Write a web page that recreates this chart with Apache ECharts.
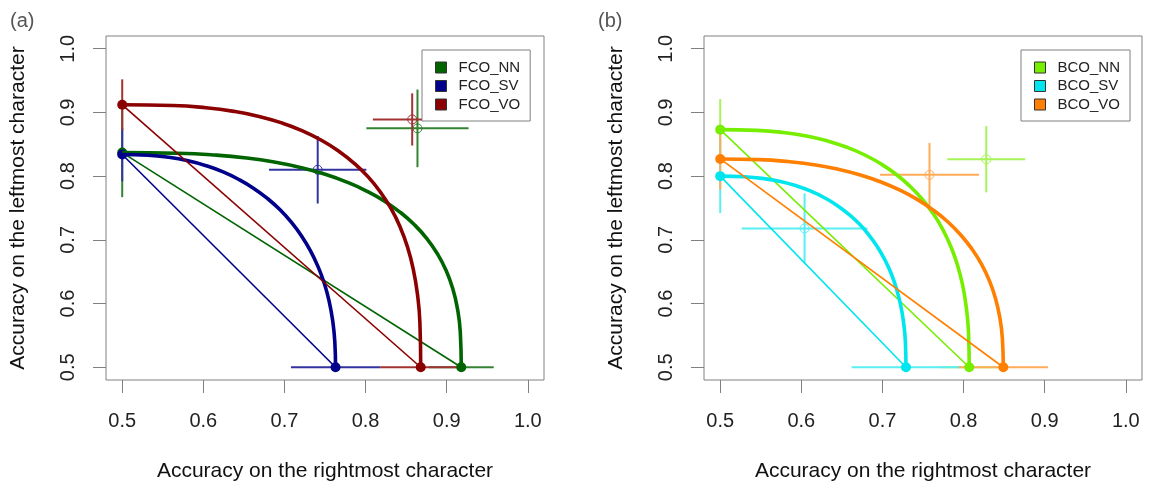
<!DOCTYPE html>
<html><head><meta charset="utf-8">
<script src="https://cdn.jsdelivr.net/npm/echarts@6/dist/echarts.min.js"></script>
<style>html,body{margin:0;padding:0;background:#fff}#c{width:1149px;height:485px}</style>
</head><body><div id="c"></div><script>
// ---------- data ----------
const tickValues = [0.5, 0.6, 0.7, 0.8, 0.9, 1.0];
const xTitle = 'Accuracy on the rightmost character';
const yTitle = 'Accuracy on the leftmost character';
const panelLabels = ['(a)', '(b)'];

// panel (a)
const fcoNames = ['FCO_NN', 'FCO_SV', 'FCO_VO'];
const fcoColors = ['#006400', '#00008B', '#8B0000'];
const fcoLeft = [0.837, 0.834, 0.912];
const fcoLeftErr = [0.07, 0.042, 0.04];
const fcoRight = [0.918, 0.763, 0.868];
const fcoRightErr = [0.04, 0.055, 0.05];
const fcoJointX = [0.864, 0.741, 0.8575];
const fcoJointXErr = [0.063, 0.06, 0.0485];
const fcoJointY = [0.875, 0.810, 0.889];
const fcoJointYErr = [0.061, 0.053, 0.041];
const fcoNNCurve = [[0.5,0.837],[0.5686,0.836],[0.6143,0.8332],[0.6536,0.8285],[0.6888,0.8218],[0.7209,0.8133],[0.7502,0.8029],[0.7769,0.7907],[0.8013,0.7766],[0.8234,0.7607],[0.8431,0.7429],[0.8606,0.7233],[0.8758,0.7017],[0.8886,0.6781],[0.8992,0.6522],[0.9074,0.6238],[0.9133,0.5921],[0.9168,0.5553],[0.918,0.5]];
const fcoSVCurve = [[0.5,0.834],[0.5315,0.8329],[0.5574,0.8296],[0.5812,0.8241],[0.6035,0.8164],[0.6244,0.8066],[0.6439,0.7947],[0.6622,0.7808],[0.6791,0.7649],[0.6946,0.7471],[0.7086,0.7274],[0.7211,0.706],[0.7321,0.6828],[0.7414,0.6579],[0.7492,0.6314],[0.7552,0.6031],[0.7595,0.5729],[0.7621,0.54],[0.763,0.5]];
const fcoVOCurve = [[0.5,0.912],[0.5624,0.9109],[0.603,0.9074],[0.6377,0.9017],[0.6687,0.8938],[0.6967,0.8836],[0.7223,0.8711],[0.7456,0.8564],[0.7668,0.8394],[0.786,0.8202],[0.8032,0.7988],[0.8183,0.775],[0.8315,0.7489],[0.8426,0.7202],[0.8517,0.6888],[0.8588,0.6542],[0.8639,0.6153],[0.867,0.5699],[0.868,0.5]];

// panel (b)
const bcoNames = ['BCO_NN', 'BCO_SV', 'BCO_VO'];
const bcoColors = ['#76EE00', '#00E5EE', '#FF7F00'];
const bcoLeft = [0.873, 0.800, 0.827];
const bcoLeftErr = [0.048, 0.058, 0.048];
const bcoRight = [0.807, 0.729, 0.849];
const bcoRightErr = [0.035, 0.067, 0.055];
const bcoJointX = [0.828, 0.604, 0.758];
const bcoJointXErr = [0.048, 0.0775, 0.061];
const bcoJointY = [0.8265, 0.718, 0.802];
const bcoJointYErr = [0.052, 0.055, 0.05];
const bcoNNCurve = [[0.5,0.873],[0.5453,0.8719],[0.5778,0.8686],[0.6064,0.863],[0.6323,0.8552],[0.6562,0.8453],[0.6783,0.8332],[0.6985,0.819],[0.7171,0.8026],[0.7339,0.7842],[0.7491,0.7637],[0.7625,0.7412],[0.7743,0.7166],[0.7842,0.6898],[0.7924,0.6608],[0.7988,0.6292],[0.8033,0.5945],[0.8061,0.555],[0.807,0.5]];
const bcoSVCurve = [[0.5,0.8],[0.53,0.799],[0.5532,0.7962],[0.5742,0.7915],[0.5937,0.7848],[0.6117,0.7764],[0.6285,0.7661],[0.6441,0.7541],[0.6584,0.7402],[0.6716,0.7248],[0.6834,0.7076],[0.6939,0.6888],[0.7031,0.6684],[0.711,0.6464],[0.7174,0.6227],[0.7225,0.5973],[0.7261,0.5697],[0.7283,0.5393],[0.729,0.5]];
const bcoVOCurve = [[0.5,0.827],[0.5476,0.826],[0.5836,0.8229],[0.6158,0.8179],[0.6454,0.8108],[0.6728,0.8018],[0.6982,0.7908],[0.7217,0.7779],[0.7433,0.7631],[0.763,0.7464],[0.7808,0.728],[0.7966,0.7077],[0.8103,0.6857],[0.8221,0.6619],[0.8317,0.6362],[0.8393,0.6085],[0.8447,0.5783],[0.8479,0.5446],[0.849,0.5]];

// ---------- chart ----------
const FONT = 'Liberation Sans, Arial, sans-serif';
function lighten(hex, t) {
  const n = parseInt(hex.slice(1), 16);
  const r = (n >> 16) & 255, g = (n >> 8) & 255, b = n & 255;
  const f = v => Math.round(v + (255 - v) * t);
  return 'rgb(' + f(r) + ',' + f(g) + ',' + f(b) + ')';
}
const grids = [
  { left: 106, top: 36, width: 438, height: 344 },
  { left: 704, top: 36, width: 438, height: 344 }
];
function makeX(i) {
  return {
    gridIndex: i, type: 'value', min: 0.48, max: 1.02,
    axisLine: { show: false }, splitLine: { show: false },
    axisTick: { show: true, length: 13, customValues: tickValues, lineStyle: { color: '#808080', width: 1 } },
    axisLabel: { customValues: tickValues, formatter: v => v.toFixed(1), fontSize: 20, color: '#222', fontFamily: FONT, margin: 31 },
    name: xTitle, nameLocation: 'middle', nameGap: 81,
    nameTextStyle: { fontSize: 21, color: '#111', fontFamily: FONT }
  };
}
function makeY(i) {
  return {
    gridIndex: i, type: 'value', min: 0.48, max: 1.02,
    axisLine: { show: false }, splitLine: { show: false },
    axisTick: { show: true, length: 13, customValues: tickValues, lineStyle: { color: '#808080', width: 1 } },
    axisLabel: { customValues: tickValues, formatter: v => v.toFixed(1), rotate: 90, fontSize: 20, color: '#222', fontFamily: FONT, margin: 28 },
    name: yTitle, nameLocation: 'middle', nameGap: 77, nameRotate: 90,
    nameTextStyle: { fontSize: 21, color: '#111', fontFamily: FONT }
  };
}
function errRender(color, lw) {
  return function (params, api) {
    const cx = api.value(0), cy = api.value(1), ex = api.value(2), ey = api.value(3), circ = api.value(4);
    const ch = [];
    if (ex > 0) {
      const a = api.coord([cx - ex, cy]), b = api.coord([cx + ex, cy]);
      ch.push({ type: 'line', shape: { x1: a[0], y1: a[1], x2: b[0], y2: b[1] }, style: { stroke: color, lineWidth: lw } });
    }
    if (ey > 0) {
      const a = api.coord([cx, cy - ey]), b = api.coord([cx, cy + ey]);
      ch.push({ type: 'line', shape: { x1: a[0], y1: a[1], x2: b[0], y2: b[1] }, style: { stroke: color, lineWidth: lw } });
    }
    if (circ) {
      const p = api.coord([cx, cy]);
      ch.push({ type: 'circle', shape: { cx: p[0], cy: p[1], r: 4.5 }, style: { fill: null, stroke: color, lineWidth: 1 } });
    }
    return { type: 'group', children: ch };
  };
}
function panelSeries(p, names, colors, left, leftErr, right, rightErr, jx, jxe, jy, jye, curves, lt) {
  const out = [];
  names.forEach((name, i) => {
    const c = colors[i];
    out.push({ type: 'line', name: name + ' chord', xAxisIndex: p, yAxisIndex: p, silent: true,
      data: [[0.5, left[i]], [right[i], 0.5]], symbol: 'none', lineStyle: { color: c, width: 1.6 }, animation: false });
    out.push({ type: 'line', name: name, xAxisIndex: p, yAxisIndex: p, silent: true, color: c,
      data: curves[i], smooth: 0.5, symbol: 'none', lineStyle: { color: c, width: 3.6 }, itemStyle: { color: c }, animation: false });
    out.push({ type: 'custom', name: name + ' err', xAxisIndex: p, yAxisIndex: p, silent: true,
      encode: { x: 0, y: 1 }, dimensions: ['x', 'y', 'ex', 'ey', 'c'],
      data: [[0.5, left[i], 0, leftErr[i], 0], [right[i], 0.5, rightErr[i], 0, 0], [jx[i], jy[i], jxe[i], jye[i], 1]],
      renderItem: errRender(lighten(c, lt), 2), animation: false });
    out.push({ type: 'scatter', name: name + ' pts', xAxisIndex: p, yAxisIndex: p, silent: true,
      data: [[0.5, left[i]], [right[i], 0.5]], symbol: 'circle', symbolSize: 10, itemStyle: { color: c, opacity: 1 }, animation: false });
  });
  return out;
}
function makeLegend(left, names, colors) {
  return {
    left: left, top: 50, orient: 'vertical', selectedMode: false,
    data: names.map((n, i) => ({ name: n, icon: 'rect', itemStyle: { color: colors[i], borderColor: '#333', borderWidth: 1 } })),
    itemWidth: 11, itemHeight: 11, itemGap: 3.5, padding: [10, 10, 9, 13],
    backgroundColor: '#fff', borderColor: '#808080', borderWidth: 1, borderRadius: 0,
    textStyle: { fontSize: 15, color: '#222', fontFamily: FONT, padding: [0, 0, 0, 7] }, z: 20
  };
}
const fcoCurves = [fcoNNCurve, fcoSVCurve, fcoVOCurve];
const bcoCurves = [bcoNNCurve, bcoSVCurve, bcoVOCurve];
const option = {
  animation: false,
  backgroundColor: '#fff',
  grid: grids.map(g => Object.assign({ show: true, borderColor: '#808080', borderWidth: 1, backgroundColor: 'transparent', containLabel: false, outerBoundsMode: 'none' }, g)),
  xAxis: [makeX(0), makeX(1)],
  yAxis: [makeY(0), makeY(1)],
  legend: [makeLegend(422, fcoNames, fcoColors), makeLegend(1021, bcoNames, bcoColors)],
  graphic: [
    { type: 'text', left: 10, top: 11, style: { text: panelLabels[0], fontSize: 20, fill: '#555', fontFamily: FONT } },
    { type: 'text', left: 598, top: 11, style: { text: panelLabels[1], fontSize: 20, fill: '#555', fontFamily: FONT } }
  ],
  series: [].concat(
    panelSeries(0, fcoNames, fcoColors, fcoLeft, fcoLeftErr, fcoRight, fcoRightErr, fcoJointX, fcoJointXErr, fcoJointY, fcoJointYErr, fcoCurves, 0.2),
    panelSeries(1, bcoNames, bcoColors, bcoLeft, bcoLeftErr, bcoRight, bcoRightErr, bcoJointX, bcoJointXErr, bcoJointY, bcoJointYErr, bcoCurves, 0.35)
  )
};
const chart = echarts.init(document.getElementById('c'), null, { renderer: 'canvas' });
chart.setOption(option);
</script></body></html>
